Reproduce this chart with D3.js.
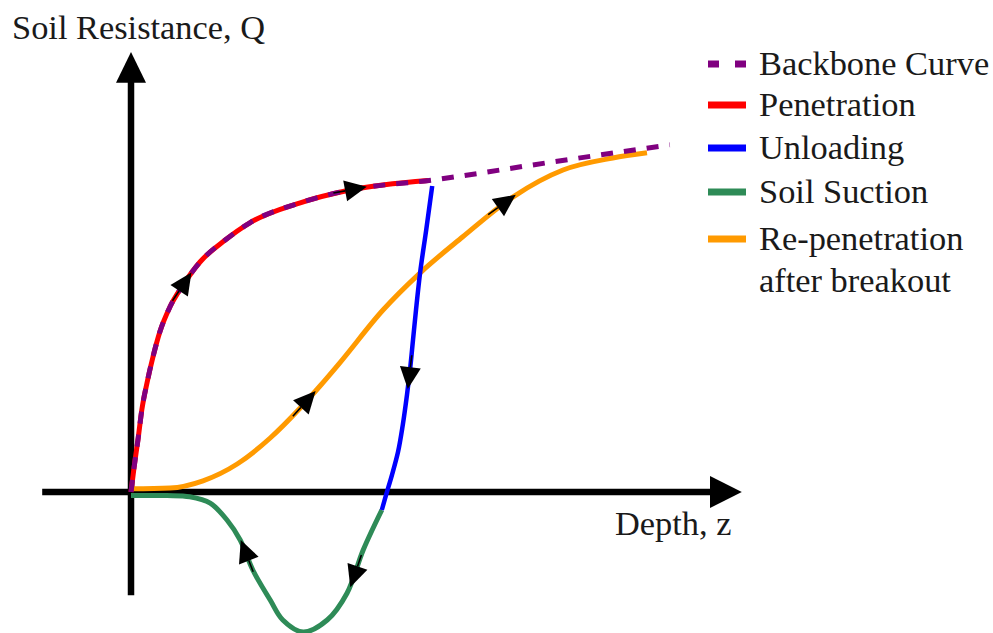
<!DOCTYPE html>
<html><head><meta charset="utf-8">
<script src="https://cdn.jsdelivr.net/npm/d3@7"></script>
<style>html,body{margin:0;padding:0;background:#fff;} svg{display:block;}</style>
</head><body><svg id="chart" width="993" height="633"></svg>
<script>
// ---- data (z = depth, Q = soil resistance, arbitrary units) ----
const backboneZ = [0, 0.5, 1.2, 1.8, 2.7, 3.7, 4.8, 6.5, 8.7, 11.5, 15.7, 19.8, 28.2, 36.5, 50.3, 69.3, 89.8];
const backboneQ = [0, 6.0, 13.5, 20.5, 27.5, 34.0, 40.0, 46.3, 51.8, 57.5, 63.0, 67.3, 72.3, 75.5, 78.0, 82.3, 86.8];

const penetrationZ = [0, 0.5, 1.2, 1.8, 2.7, 3.7, 4.8, 6.5, 8.7, 11.5, 15.7, 19.8, 28.2, 36.5, 49.5];
const penetrationQ = [0, 6.0, 13.5, 20.5, 27.5, 34.0, 40.0, 46.3, 51.8, 57.5, 63.0, 67.3, 72.3, 75.5, 77.9];

const unloadingZ = [50.2, 49.2, 48.2, 47.5, 47.0, 46.5, 46.0, 45.3, 44.5, 43.5, 42.5, 41.8];
const unloadingQ = [76.5, 65.5, 55.0, 45.5, 38.0, 30.5, 24.3, 16.8, 10.0, 4.3, -0.8, -4.5];

const suctionZ = [41.8, 38.7, 36.0, 32.7, 28.7, 25.3, 23.2, 20.3, 18.2, 16.0, 13.2, 9.8, 6.0, 0];
const suctionQ = [-4.5, -14.5, -25.3, -32.0, -35.0, -32.0, -27.0, -19.5, -12.0, -7.0, -2.8, -1.2, -0.9, -0.9];

const repenZ = [0, 6.5, 12.0, 17.7, 23.2, 28.2, 31.5, 34.8, 42.0, 48.2, 55.3, 63.7, 72.0, 80.3, 86.0];
const repenQ = [0.8, 1.0, 2.8, 7.0, 13.5, 21.0, 26.5, 32.3, 45.5, 54.8, 63.8, 73.8, 80.5, 83.5, 84.8];

// direction arrows: which series, approximate (z, Q) location
const arrowSeries = ["penetration", "penetration", "unloading", "suction", "suction", "repen", "repen"];
const arrowZ = [8.6, 37.5, 46.5, 37.7, 19.0, 29.0, 62.8];
const arrowQ = [53.0, 76.0, 28.5, -21.5, -14.5, 24.0, 72.3];

const xAxisExtent = [-14.8, 96.5, 101.8];   // start, arrow base, arrow tip
const yAxisExtent = [-25.8, 102.3, 110.0];

const legendKeys = ["backbone", "penetration", "unloading", "suction", "repen"];
const legendLabels = [["Backbone Curve"], ["Penetration"], ["Unloading"], ["Soil Suction"], ["Re-penetration", "after breakout"]];
const xTitle = "Depth, z";
const yTitle = "Soil Resistance, Q";

// ---- styles ----
const colors = {backbone: "#800080", penetration: "#ff0000", unloading: "#0000ff", suction: "#2e8b57", repen: "#ff9a00"};
const widths = {backbone: 5, penetration: 5, unloading: 4.5, suction: 5, repen: 5};
const curves = {backbone: d3.curveMonotoneX, penetration: d3.curveMonotoneX, unloading: d3.curveMonotoneY,
                suction: d3.curveCatmullRom.alpha(0.5), repen: d3.curveMonotoneX};
const FONT = '"Liberation Serif", "Times New Roman", serif';

const svg = d3.select("#chart");
const x = d3.scaleLinear().domain([0, 100]).range([131, 731]);
const y = d3.scaleLinear().domain([0, 100]).range([492, 92]);

const zip = (a, b) => a.map((v, i) => [v, b[i]]);
const series = {
  backbone: zip(backboneZ, backboneQ),
  penetration: zip(penetrationZ, penetrationQ),
  unloading: zip(unloadingZ, unloadingQ),
  suction: zip(suctionZ, suctionQ),
  repen: zip(repenZ, repenQ)
};
const lineFor = k => d3.line().x(d => x(d[0])).y(d => y(d[1])).curve(curves[k]);

// ---- axes ----
const ax = svg.append("g");
const AXW = 6.5;
ax.append("line").attr("x1", x(xAxisExtent[0])).attr("x2", x(xAxisExtent[1]) + 2)
  .attr("y1", y(0)).attr("y2", y(0)).attr("stroke", "#000").attr("stroke-width", AXW);
ax.append("path").attr("d", `M${x(xAxisExtent[2])},${y(0)} L${x(xAxisExtent[1])},${y(0) - 16} L${x(xAxisExtent[1])},${y(0) + 16} Z`).attr("fill", "#000");
ax.append("line").attr("x1", x(0)).attr("x2", x(0))
  .attr("y1", y(yAxisExtent[0])).attr("y2", y(yAxisExtent[1]) - 2).attr("stroke", "#000").attr("stroke-width", AXW);
ax.append("path").attr("d", `M${x(0)},${y(yAxisExtent[2])} L${x(0) - 15},${y(yAxisExtent[1])} L${x(0) + 15},${y(yAxisExtent[1])} Z`).attr("fill", "#000");

const texts = [];
texts.push([ax.append("text").attr("class", "serif").attr("x", 12).attr("y", 39).text(yTitle), 253]);
texts.push([ax.append("text").attr("class", "serif").attr("x", 615).attr("y", 535).text(xTitle), 117]);

// ---- curves ----
const g = svg.append("g").attr("fill", "none").attr("stroke-linecap", "butt");
const paths = {};
["repen", "suction", "unloading", "penetration", "backbone"].forEach(k => {
  const p = g.append("path").attr("d", lineFor(k)(series[k]))
    .attr("stroke", colors[k]).attr("stroke-width", widths[k])
    .attr("stroke-linejoin", "round");
  if (k === "backbone") p.attr("stroke-dasharray", "12,11");
  paths[k] = p.node();
});

// ---- arrows ----
const ag = svg.append("g");
arrowSeries.forEach((s, i) => {
  const node = paths[s];
  const L = node.getTotalLength();
  const tx = x(arrowZ[i]), ty = y(arrowQ[i]);
  let best = 0, bd = Infinity;
  for (let l = 0; l <= L; l += 0.5) {
    const p = node.getPointAtLength(l);
    const d = (p.x - tx) ** 2 + (p.y - ty) ** 2;
    if (d < bd) { bd = d; best = l; }
  }
  const c = node.getPointAtLength(best);
  const a = node.getPointAtLength(Math.max(0, best - 3));
  const b = node.getPointAtLength(Math.min(L, best + 3));
  let dx = b.x - a.x, dy = b.y - a.y;
  const n = Math.hypot(dx, dy); dx /= n; dy /= n;
  const nx = -dy, ny = dx;
  const hl = 11, hw = 10.5;
  ag.append("line")
    .attr("x1", c.x - dx * hl).attr("y1", c.y - dy * hl)
    .attr("x2", c.x - dx * (hl + 12)).attr("y2", c.y - dy * (hl + 12))
    .attr("stroke", "#000").attr("stroke-width", 1.6);
  ag.append("path").attr("fill", "#000")
    .attr("d", `M${c.x + dx * hl},${c.y + dy * hl} L${c.x - dx * hl + nx * hw},${c.y - dy * hl + ny * hw} L${c.x - dx * hl - nx * hw},${c.y - dy * hl - ny * hw} Z`);
});

// ---- legend ----
const lg = svg.append("g");
const legendMarkY = [64, 105, 148, 192, 239];
legendKeys.forEach((k, i) => {
  const yy = legendMarkY[i];
  lg.append("line").attr("x1", 708).attr("x2", 746).attr("y1", yy).attr("y2", yy)
    .attr("stroke", colors[k]).attr("stroke-width", 7)
    .attr("stroke-dasharray", k === "backbone" ? "11,16" : null);
  const t = lg.append("text").attr("class", "serif").attr("x", 759).attr("y", yy + 11);
  legendLabels[i].forEach((lab, j) => {
    t.append("tspan").attr("x", 759).attr("dy", j === 0 ? 0 : 42).text(lab);
  });
  if (i === 0) texts.push([t, 229]);
});

// font size fitted so that text widths match the reference
const base = 33;
svg.selectAll("text.serif").style("font-family", FONT).attr("font-size", base).attr("fill", "#1a1a1a");
const ratios = texts.map(([t, w]) => w / t.node().getComputedTextLength());
const fs = base * d3.mean(ratios);
svg.selectAll("text.serif").attr("font-size", fs.toFixed(1));
</script></body></html>
